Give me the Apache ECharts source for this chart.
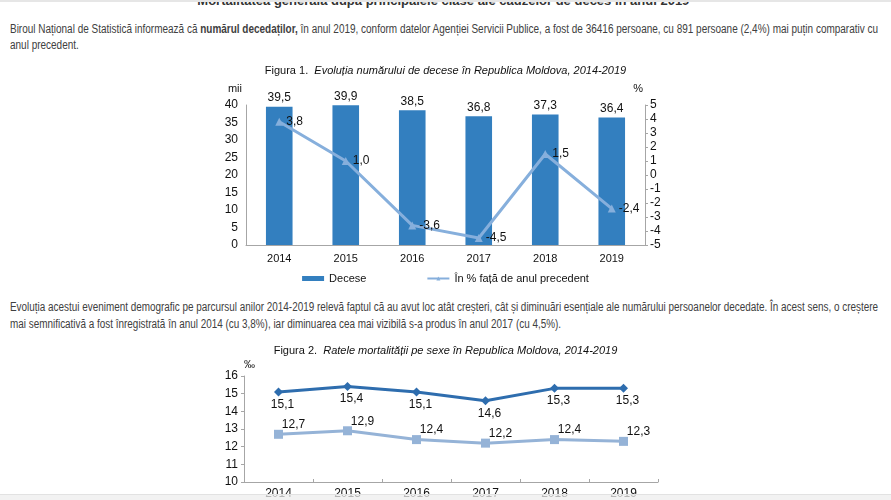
<!DOCTYPE html>
<html>
<head>
<meta charset="utf-8">
<script src="https://cdn.jsdelivr.net/npm/echarts@6/dist/echarts.min.js"></script>
<style>
  html, body { margin: 0; padding: 0; background: #fff; width: 891px; height: 500px; overflow: hidden; position: relative; font-family: "Liberation Sans", Arial, sans-serif; }
  .topbar { position: absolute; left: 0; top: 0; width: 891px; height: 2px; background: #e6e6e6; }
  .title { position: absolute; left: 0; width: 891px; top: -6px; text-align: center; font-weight: bold; font-size: 13px; color: #333; white-space: nowrap; line-height: 14px; }
  .line { position: absolute; left: 10px; white-space: nowrap; font-size: 12px; color: #404040; transform-origin: 0 50%; line-height: 14px; }
  .bottombar { position: absolute; left: 0; top: 494px; width: 891px; height: 6px; background: rgba(238,238,238,0.75); border-top: 1px solid #e2e2e2; }
  #c1 { position: absolute; left: 0; top: 55px; width: 891px; height: 240px; }
  #c2 { position: absolute; left: 0; top: 335px; width: 891px; height: 165px; }
</style>
</head>
<body>
<div class="title">Mortalitatea generală după principalele clase ale cauzelor de deces în anul 2019¹</div>
<div class="line" id="p1l1" style="top:22px">Biroul Național de Statistică informează că <b>numărul decedaților,</b> în anul 2019, conform datelor Agenției Servicii Publice, a fost de 36416 persoane, cu 891 persoane (2,4%) mai puțin comparativ cu</div>
<div class="line" id="p1l2" style="top:38px">anul precedent.</div>
<div id="c1"></div>
<div class="line" id="p2l1" style="top:300px">Evoluția acestui eveniment demografic pe parcursul anilor 2014-2019 relevă faptul că au avut loc atât creșteri, cât și diminuări esențiale ale numărului persoanelor decedate. În acest sens, o creștere</div>
<div class="line" id="p2l2" style="top:317px">mai semnificativă a fost înregistrată în anul 2014 (cu 3,8%), iar diminuarea cea mai vizibilă s-a produs în anul 2017 (cu 4,5%).</div>
<div id="c2"></div>
<div class="bottombar"></div>
<div class="topbar"></div>
<script>
// ---- data ----
const years = ['2014', '2015', '2016', '2017', '2018', '2019'];
const deaths = [39.5, 39.9, 38.5, 36.8, 37.3, 36.4];          // mii
const pctChange = [3.8, 1.0, -3.6, -4.5, 1.5, -2.4];          // % față de anul precedent
const rateMen = [15.1, 15.4, 15.1, 14.6, 15.3, 15.3];         // ‰
const rateWomen = [12.7, 12.9, 12.4, 12.2, 12.4, 12.3];       // ‰
const leftTicks = [0, 40, 5];
const rightTicks = [-5, 5, 1];
const rateTicks = [10, 16, 1];

// scale paragraph lines to the reference width
function fit(idA, idB, w) {
  const a = document.getElementById(idA), b = document.getElementById(idB);
  const s = w / a.getBoundingClientRect().width;
  a.style.transform = 'scaleX(' + s + ')';
  b.style.transform = 'scaleX(' + s + ')';
}
fit('p1l1', 'p1l2', 868);
fit('p2l1', 'p2l2', 868);

const fmt = v => v.toFixed(1).replace('.', ',');
const FONT = '"Liberation Sans", Arial, sans-serif';
const txt = { fontFamily: FONT, fontSize: 11, color: '#111' };
const barColor = '#337FBF';
const lineColor = '#86AFDC';
const capRich = {
  a: { fontFamily: FONT, fontSize: 11, fontWeight: 'normal', color: '#111' },
  b: { fontFamily: FONT, fontSize: 11, fontWeight: 'normal', fontStyle: 'italic', color: '#111' }
};

const c1 = echarts.init(document.getElementById('c1'));
c1.setOption({
  animation: false,
  title: {
    left: 'center', top: 5,
    text: '{a|Figura 1.  }{b|Evoluția numărului de decese în Republica Moldova, 2014-2019}',
    textStyle: { fontWeight: 'normal', rich: capRich }
  },
  legend: {
    bottom: 6, left: 'center', itemGap: 60, itemWidth: 22, itemHeight: 5,
    textStyle: { fontFamily: FONT, fontSize: 11, color: '#111' },
    data: [{ name: 'Decese', icon: 'rect' }, { name: 'În % față de anul precedent' }]
  },
  grid: { left: 246, right: 246, top: 50, bottom: 50 },
  xAxis: {
    type: 'category', data: years,
    axisLine: { lineStyle: { color: '#a6a6a6' } },
    axisTick: { show: false },
    axisLabel: Object.assign({ margin: 8 }, txt)
  },
  yAxis: [
    { type: 'value', min: leftTicks[0], max: leftTicks[1], interval: leftTicks[2],
      name: 'mii', nameGap: 11, nameTextStyle: Object.assign({ align: 'right', padding: [0, 4, 0, 0] }, txt),
      axisLine: { show: true, lineStyle: { color: '#a6a6a6' } }, axisTick: { show: false },
      splitLine: { show: false }, axisLabel: Object.assign({ margin: 8 }, txt, { fontSize: 12 }) },
    { type: 'value', min: rightTicks[0], max: rightTicks[1], interval: rightTicks[2],
      name: '%', nameGap: 11, nameTextStyle: Object.assign({ align: 'right', padding: [0, 2, 0, 0] }, txt),
      axisLine: { show: true, lineStyle: { color: '#a6a6a6' } }, axisTick: { show: true, length: 3, lineStyle: { color: '#a6a6a6' } },
      splitLine: { show: false }, axisLabel: Object.assign({ margin: 5 }, txt, { fontSize: 12 }) }
  ],
  series: [
    { name: 'Decese', type: 'bar', data: deaths, barWidth: '40%', itemStyle: { color: barColor },
      label: { show: true, position: 'top', distance: 3, formatter: p => fmt(p.value), fontFamily: FONT, fontSize: 12, color: '#111' } },
    { name: 'În % față de anul precedent', type: 'line', yAxisIndex: 1, data: pctChange,
      symbol: 'triangle', symbolSize: 8, lineStyle: { width: 3, color: lineColor }, itemStyle: { color: lineColor },
      label: { show: true, position: 'right', distance: 3, formatter: p => fmt(p.value), fontFamily: FONT, fontSize: 12, color: '#111' } }
  ]
});

const c2 = echarts.init(document.getElementById('c2'));
c2.setOption({
  animation: false,
  title: {
    left: 'center', top: 5,
    text: '{a|Figura 2.  }{b|Ratele mortalității pe sexe în Republica Moldova, 2014-2019}',
    textStyle: { fontWeight: 'normal', rich: capRich }
  },
  grid: { left: 244, right: 233, top: 41, bottom: 16 },
  xAxis: {
    type: 'category', data: years,
    axisLine: { lineStyle: { color: '#a6a6a6' } },
    axisTick: { show: true, length: 3, inside: true, lineStyle: { color: '#a6a6a6' } },
    axisLabel: Object.assign({ margin: 6 }, txt, { fontSize: 12 })
  },
  yAxis: {
    type: 'value', min: rateTicks[0], max: rateTicks[1], interval: rateTicks[2],
    name: '‰', nameGap: 6, nameTextStyle: Object.assign({ align: 'left', padding: [0, 0, 0, 0] }, txt),
    axisLine: { show: true, lineStyle: { color: '#a6a6a6' } },
    axisTick: { show: true, length: 3, lineStyle: { color: '#a6a6a6' } },
    splitLine: { show: false }, axisLabel: Object.assign({ margin: 6 }, txt, { fontSize: 12 })
  },
  series: [
    { name: 'Bărbați', type: 'line', data: rateMen, symbol: 'diamond', symbolSize: 9,
      lineStyle: { width: 3, color: '#2E6DAE' }, itemStyle: { color: '#2E6DAE' },
      label: { show: true, position: 'bottom', distance: 2, offset: [4, 0], formatter: p => fmt(p.value), fontFamily: FONT, fontSize: 12, color: '#111' } },
    { name: 'Femei', type: 'line', data: rateWomen, symbol: 'rect', symbolSize: 9,
      lineStyle: { width: 3, color: '#95B3D7' }, itemStyle: { color: '#95B3D7' },
      label: { show: true, position: 'top', distance: 0, offset: [15, 1], formatter: p => fmt(p.value), fontFamily: FONT, fontSize: 12, color: '#111' } }
  ]
});
</script>
</body>
</html>
